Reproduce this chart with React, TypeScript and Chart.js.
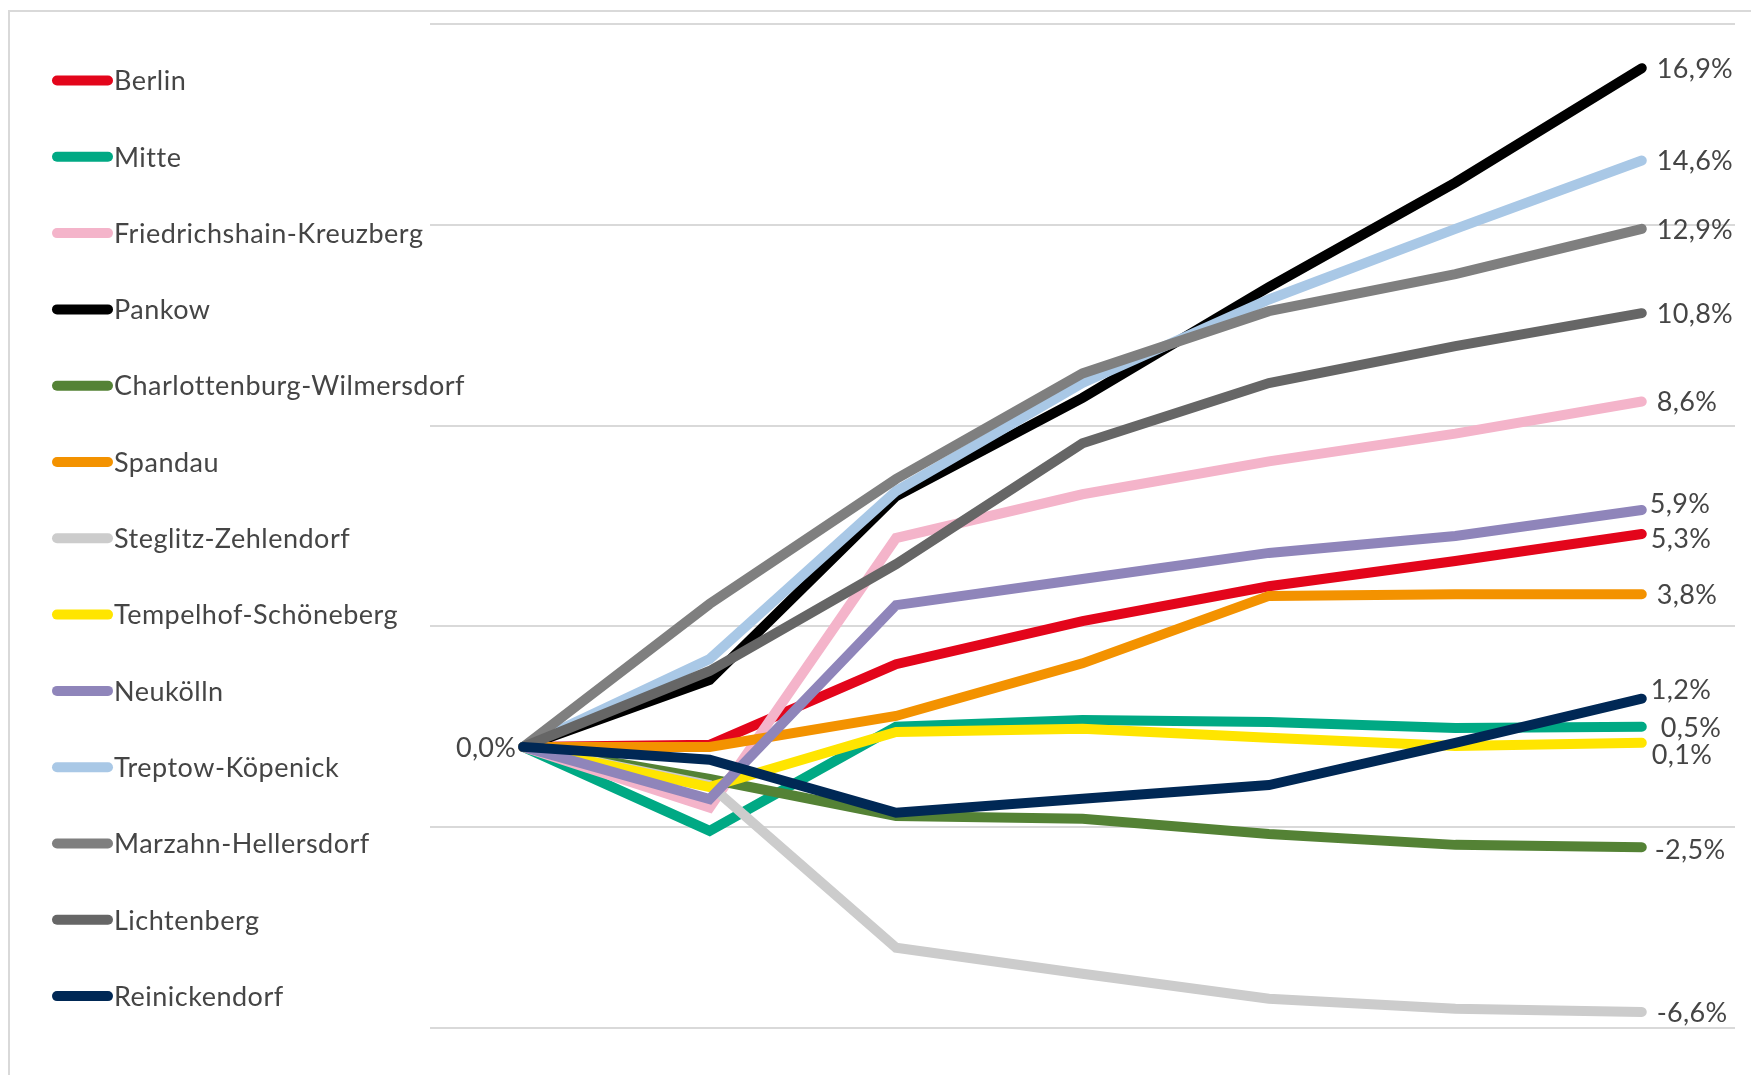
import React, { useEffect, useRef } from "react";
import { Chart, registerables } from "chart.js";

Chart.register(...registerables);

// Seven reporting steps; the first one is the common base (0 %).
const periods = ["t0", "t1", "t2", "t3", "t4", "t5", "t6"];

const districts = [
  "Berlin",
  "Mitte",
  "Friedrichshain-Kreuzberg",
  "Pankow",
  "Charlottenburg-Wilmersdorf",
  "Spandau",
  "Steglitz-Zehlendorf",
  "Tempelhof-Schöneberg",
  "Neukölln",
  "Treptow-Köpenick",
  "Marzahn-Hellersdorf",
  "Lichtenberg",
  "Reinickendorf",
];

// Change relative to the base period, in percent
const berlin = [0, 0.05, 2.06, 3.13, 4.0, 4.63, 5.3];
const mitte = [0, -2.09, 0.5, 0.67, 0.62, 0.47, 0.5];
const friedrichshainKreuzberg = [0, -1.51, 5.2, 6.29, 7.11, 7.8, 8.6];
const pankow = [0, 1.67, 6.24, 8.69, 11.45, 14.05, 16.9];
const charlottenburgWilmersdorf = [0, -0.8, -1.72, -1.79, -2.17, -2.44, -2.5];
const spandau = [0, 0, 0.77, 2.08, 3.76, 3.8, 3.8];
const steglitzZehlendorf = [0, -0.95, -5.0, -5.65, -6.27, -6.52, -6.6];
const tempelhofSchoeneberg = [0, -1.0, 0.37, 0.45, 0.23, 0.02, 0.1];
const neukoelln = [0, -1.3, 3.53, 4.18, 4.83, 5.25, 5.9];
const treptowKoepenick = [0, 2.19, 6.37, 9.06, 11.14, 12.9, 14.6];
const marzahnHellersdorf = [0, 3.56, 6.67, 9.3, 10.85, 11.77, 12.9];
const lichtenberg = [0, 1.89, 4.55, 7.56, 9.06, 9.98, 10.8];
const reinickendorf = [0, -0.32, -1.64, -1.29, -0.95, 0.1, 1.2];

const seriesValues = [
  berlin,
  mitte,
  friedrichshainKreuzberg,
  pankow,
  charlottenburgWilmersdorf,
  spandau,
  steglitzZehlendorf,
  tempelhofSchoeneberg,
  neukoelln,
  treptowKoepenick,
  marzahnHellersdorf,
  lichtenberg,
  reinickendorf,
];

const lineColors = [
  "#e3051b",
  "#00a984",
  "#f4b4ca",
  "#000000",
  "#548235",
  "#f39200",
  "#cccccc",
  "#ffe500",
  "#8f85ba",
  "#a9c8e6",
  "#7f7f7f",
  "#666666",
  "#002855",
];

// Horizontal gridlines
const yGridValues = [-7, -2, 3, 8, 13, 18];

const W = 1751;
const H = 1075;
const FONT = "Lato, 'Open Sans', sans-serif";
const TEXT_COLOR = "#454545";
const GRID_COLOR = "#d9d9d9";

const formatPct = (v: number) => v.toFixed(1).replace(".", ",") + "%";

// Small nudges for end labels that would otherwise collide
const endLabelNudge: Record<string, { dx: number; dy: number }> = {
  "Neukölln": { dx: -7, dy: -7 },
  "Berlin": { dx: -6, dy: 4 },
  "Reinickendorf": { dx: -6, dy: -9 },
  "Mitte": { dx: 4, dy: 0 },
  "Tempelhof-Schöneberg": { dx: -5, dy: 11 },
  "Charlottenburg-Wilmersdorf": { dx: -2, dy: 2 },
};

const framePlugin = {
  id: "frame",
  beforeDraw(chart: Chart) {
    const ctx = chart.ctx;
    ctx.save();
    ctx.fillStyle = "#ffffff";
    ctx.fillRect(0, 0, chart.width, chart.height);
    ctx.strokeStyle = GRID_COLOR;
    ctx.lineWidth = 2;
    ctx.beginPath();
    ctx.moveTo(9, chart.height + 2);
    ctx.lineTo(9, 11);
    ctx.lineTo(chart.width + 2, 11);
    ctx.stroke();
    ctx.restore();
  },
};

const legendPlugin = {
  id: "sideLegend",
  afterDraw(chart: Chart) {
    const ctx = chart.ctx as any;
    ctx.save();
    ctx.font = `27px ${FONT}`;
    ctx.letterSpacing = "0.5px";
    ctx.textBaseline = "middle";
    ctx.textAlign = "left";
    chart.data.datasets.forEach((ds: any, i: number) => {
      const y = 80.5 + i * 76.3;
      ctx.strokeStyle = ds.borderColor;
      ctx.lineWidth = 10;
      ctx.lineCap = "round";
      ctx.beginPath();
      ctx.moveTo(57, y);
      ctx.lineTo(108, y);
      ctx.stroke();
      ctx.fillStyle = TEXT_COLOR;
      ctx.fillText(ds.label, 114, y + 1);
    });
    ctx.restore();
  },
};

const valueLabelPlugin = {
  id: "valueLabels",
  afterDatasetsDraw(chart: Chart) {
    const ctx = chart.ctx as any;
    ctx.save();
    ctx.font = `27px ${FONT}`;
    ctx.letterSpacing = "0.3px";
    ctx.fillStyle = TEXT_COLOR;
    ctx.textBaseline = "middle";
    chart.data.datasets.forEach((ds: any, i: number) => {
      const meta = chart.getDatasetMeta(i);
      const data = ds.data as number[];
      const last = meta.data[data.length - 1];
      const nudge = endLabelNudge[ds.label] || { dx: 0, dy: 0 };
      ctx.textAlign = "left";
      ctx.fillText(formatPct(data[data.length - 1]), last.x + 15 + nudge.dx, last.y + 1 + nudge.dy);
    });
    // Base value, left of the common starting point
    const first = chart.getDatasetMeta(0).data[0];
    const base = (chart.data.datasets[0].data as number[])[0];
    ctx.textAlign = "right";
    ctx.fillText(formatPct(base), first.x - 7, first.y + 1);
    ctx.restore();
  },
};

export default function App() {
  const canvasRef = useRef<HTMLCanvasElement | null>(null);

  useEffect(() => {
    if (!canvasRef.current) return;
    const chart = new Chart(canvasRef.current, {
      type: "line",
      data: {
        labels: periods,
        datasets: districts.map((name, i) => ({
          label: name,
          data: seriesValues[i],
          borderColor: lineColors[i],
          backgroundColor: lineColors[i],
          borderWidth: 10,
          borderCapStyle: "round" as const,
          borderJoinStyle: "miter" as const,
          pointRadius: 0,
          pointHoverRadius: 0,
          tension: 0,
          fill: false,
          // later series are painted above earlier ones
          order: -i,
        })),
      },
      options: {
        responsive: false,
        animation: false,
        events: [],
        layout: { padding: { left: 430, right: 16, top: 24, bottom: 47 } },
        plugins: {
          legend: { display: false },
          tooltip: { enabled: false },
          title: { display: false },
        },
        scales: {
          x: {
            type: "category",
            display: false,
            offset: true,
          },
          y: {
            type: "linear",
            min: -7,
            max: 18,
            border: { display: false },
            grid: { color: GRID_COLOR, lineWidth: 2, drawTicks: false },
            ticks: { display: false },
            afterBuildTicks: (scale: any) => {
              scale.ticks = yGridValues.map((v) => ({ value: v }));
            },
            afterFit: (scale: any) => {
              scale.width = 0;
            },
          },
        },
      },
      plugins: [framePlugin, legendPlugin, valueLabelPlugin],
    });
    return () => chart.destroy();
  }, []);

  return (
    <div style={{ position: "absolute", left: 0, top: 0, width: W, height: H, background: "#fff" }}>
      <canvas ref={canvasRef} width={W} height={H} style={{ display: "block", width: W, height: H }} />
    </div>
  );
}
